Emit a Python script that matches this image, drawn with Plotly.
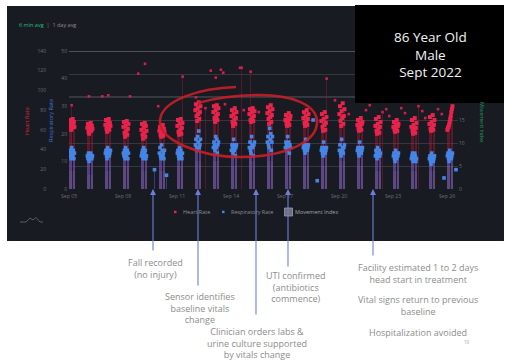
import plotly.graph_objects as go
from datetime import datetime, timedelta

W, H = 512, 363

# ---------------- data ----------------
night_dates = ["2022-09-05", "2022-09-06", "2022-09-07", "2022-09-08", "2022-09-09",
               "2022-09-10", "2022-09-11", "2022-09-12", "2022-09-13", "2022-09-14",
               "2022-09-15", "2022-09-16", "2022-09-17", "2022-09-18", "2022-09-19",
               "2022-09-20", "2022-09-21", "2022-09-22", "2022-09-23", "2022-09-24",
               "2022-09-25", "2022-09-26"]
reading_hours = [0.5, 1.25, 2, 2.75, 3.5, 4.25, 5, 5.75, 6.5, 7.25]

hr_readings = [
    [66, 70, 64, 60, 67, 62, 71, 65, 68, 63],
    [62, 66, 58, 56, 63, 60, 67, 59, 64, 61],
    [65, 70, 61, 58, 66, 63, 71, 60, 67, 64],
    [63, 68, 57, 53, 64, 59, 69, 55, 61, 66],
    [60, 66, 55, 51, 62, 57, 67, 53, 64, 59],
    [59, 63, 55, 53, 60, 57, 65, 54, 61, 58],
    [64, 70, 58, 55, 66, 60, 71, 56, 62, 67],
    [80, 86, 74, 69, 82, 76, 88, 71, 78, 84],
    [78, 84, 72, 68, 80, 74, 85, 70, 76, 82],
    [74, 80, 68, 64, 76, 70, 82, 66, 72, 78],
    [76, 81, 70, 68, 78, 72, 82, 69, 74, 79],
    [77, 83, 71, 66, 79, 73, 85, 68, 75, 81],
    [70, 75, 66, 64, 72, 68, 77, 65, 71, 74],
    [72, 78, 67, 64, 74, 69, 80, 65, 71, 76],
    [69, 76, 63, 59, 71, 65, 78, 60, 67, 73],
    [76, 84, 69, 64, 79, 72, 87, 66, 74, 81],
    [65, 70, 61, 59, 67, 63, 72, 60, 66, 68],
    [64, 71, 59, 56, 66, 61, 73, 57, 63, 68],
    [63, 68, 60, 58, 65, 61, 70, 59, 64, 66],
    [63, 70, 59, 56, 65, 61, 72, 57, 62, 67],
    [66, 73, 61, 59, 68, 63, 75, 60, 65, 70],
    [60, 62, 63, 65, 68, 71, 74, 78, 81, 84],
]
rr_readings = [
    [13, 14, 12, 11, 15, 13, 12, 14, 11, 13],
    [12, 11, 13, 10, 12, 11, 13, 12, 11, 12],
    [13, 14, 12, 11, 15, 13, 14, 12, 13, 14],
    [13, 12, 14, 11, 15, 12, 13, 14, 11, 13],
    [12, 13, 14, 11, 15, 12, 13, 14, 11, 12],
    [13, 15, 12, 11, 16, 14, 12, 13, 11, 14],
    [13, 14, 12, 11, 15, 13, 14, 12, 11, 13],
    [16, 18, 15, 14, 19, 17, 21, 15, 16, 18],
    [15, 17, 16, 14, 19, 15, 18, 13, 16, 17],
    [14, 16, 15, 13, 18, 14, 16, 12, 15, 16],
    [15, 17, 14, 13, 19, 16, 15, 12, 16, 17],
    [17, 19, 16, 15, 22, 18, 20, 14, 17, 19],
    [15, 17, 16, 14, 19, 15, 17, 13, 16, 15],
    [15, 16, 14, 13, 18, 15, 16, 14, 15, 16],
    [14, 15, 13, 12, 17, 14, 15, 13, 14, 15],
    [14, 16, 13, 12, 18, 14, 15, 13, 15, 16],
    [14, 15, 13, 12, 17, 14, 15, 13, 14, 15],
    [12, 14, 13, 11, 15, 12, 13, 14, 12, 13],
    [12, 13, 11, 10, 14, 12, 11, 13, 12, 13],
    [11, 12, 13, 10, 12, 11, 13, 12, 10, 11],
    [11, 12, 10, 9, 13, 11, 12, 10, 11, 12],
    [12, 13, 11, 10, 14, 12, 13, 11, 12, 13],
]
mi_nightly = [4, 3, 4, 5, 4, 4, 5, 6, 6, 5, 6, 6, 5, 5, 5, 6, 5, 4, 4, 4, 4, 5]

spike_times = ["2022-09-05 03:30", "2022-09-06 02:40", "2022-09-06 20:20", "2022-09-07 04:20",
               "2022-09-08 09:20", "2022-09-08 20:20", "2022-09-09 05:20", "2022-09-09 23:00",
               "2022-09-11 07:30", "2022-09-12 01:20", "2022-09-12 21:00", "2022-09-13 03:40",
               "2022-09-13 10:30", "2022-09-13 13:40", "2022-09-14 12:00", "2022-09-14 14:10",
               "2022-09-15 02:10", "2022-09-19 07:30", "2022-09-19 18:40"]
spike_hr = [85, 94, 94, 95, 94, 117, 127, 84, 114, 93, 120, 113, 121, 118, 123, 123, 119, 112, 90]

day_times = ["2022-09-12 14:00", "2022-09-13 16:00", "2022-09-14 17:00", "2022-09-15 13:00",
             "2022-09-20 13:00", "2022-09-21 12:00", "2022-09-21 17:00", "2022-09-22 10:00",
             "2022-09-22 15:00", "2022-09-22 19:00", "2022-09-23 11:00", "2022-09-23 16:00",
             "2022-09-24 10:00", "2022-09-24 15:00", "2022-09-24 19:00", "2022-09-25 12:00",
             "2022-09-25 17:00"]
day_hr = [82, 86, 80, 78, 76, 80, 85, 78, 81, 74, 82, 77, 84, 79, 72, 81, 76]

rr_out_times = ["2022-09-09 18:00", "2022-09-10 10:00", "2022-09-18 13:30",
                "2022-09-18 19:00", "2022-09-25 20:00", "2022-09-26 12:00"]
rr_out = [7, 5, 25, 3, 4, 7]

tick_dates = ["2022-09-05", "2022-09-08", "2022-09-11", "2022-09-14",
              "2022-09-17", "2022-09-20", "2022-09-23", "2022-09-26"]
mi_ticks = [0, 5, 10, 15, 20, 25, 30]
mi_tick_text = ["0", "5", "10", "15", "", "", ""]

event_times = ["2022-09-09 16:00", "2022-09-12 04:00", "2022-09-15 09:20",
               "2022-09-17 04:00", "2022-09-21 21:20"]
event_drop_px = [63, 98, 127, 79, 68]

# ---------------- helpers ----------------
def px(x):
    return x / W

def py(y):
    return 1 - y / H

def ts(s):
    return datetime.fromisoformat(s)

hr_x, hr_y, rr_x, rr_y = [], [], [], []
for d, hrs, rrs in zip(night_dates, hr_readings, rr_readings):
    base = ts(d)
    for h, hv, rv in zip(reading_hours, hrs, rrs):
        t = base + timedelta(hours=h)
        hr_x.append(t); hr_y.append(hv)
        rr_x.append(t); rr_y.append(rv)

mi_x = [ts(d) + timedelta(hours=4) for d in night_dates]
sp_x = [ts(s) for s in spike_times]
dy_x = [ts(s) for s in day_times]
ro_x = [ts(s) for s in rr_out_times]

HOUR_MS = 3600 * 1000
RED = "#e8234c"
BLUE = "#4585e6"
FONT = "Open Sans"

fig = go.Figure()

# stems (bars from zero)
fig.add_trace(go.Bar(x=hr_x, y=hr_y, width=0.6 * HOUR_MS, yaxis="y",
                     marker=dict(color="rgba(185,25,60,0.42)", line=dict(width=0)),
                     showlegend=False, hoverinfo="skip"))
fig.add_trace(go.Bar(x=sp_x + dy_x, y=spike_hr + day_hr, width=0.6 * HOUR_MS, yaxis="y",
                     marker=dict(color="rgba(150,25,55,0.45)", line=dict(width=0)),
                     showlegend=False, hoverinfo="skip"))
fig.add_trace(go.Scatter(x=sp_x + dy_x, y=spike_hr + day_hr, yaxis="y",
                         mode="markers", showlegend=False,
                         marker=dict(symbol="square", size=2.6, color="#d22048",
                                     line=dict(width=0))))
fig.add_trace(go.Scatter(x=hr_x, y=hr_y, yaxis="y",
                         mode="markers", name="Heart Rate",
                         marker=dict(symbol="square", size=4, color=RED, line=dict(width=0)),
                         showlegend=False))
fig.add_trace(go.Bar(x=rr_x + ro_x, y=rr_y + rr_out, width=0.6 * HOUR_MS, yaxis="y2",
                     marker=dict(color="rgba(80,110,230,0.45)", line=dict(width=0)),
                     showlegend=False, hoverinfo="skip"))
fig.add_trace(go.Scatter(x=rr_x + ro_x, y=rr_y + rr_out, yaxis="y2",
                         mode="markers", name="Respiratory Rate",
                         marker=dict(symbol="square", size=3.6, color=BLUE, line=dict(width=0)),
                         showlegend=False))
fig.add_trace(go.Bar(x=mi_x, y=mi_nightly, width=8 * HOUR_MS, yaxis="y3",
                     name="Movement Index",
                     marker=dict(color="rgba(160,160,175,0.10)", line=dict(width=0)),
                     showlegend=False, hoverinfo="skip"))

tick_col = "#6b6f76"
fig.update_layout(
    width=W, height=H, autosize=False,
    margin=dict(l=0, r=0, t=0, b=0, pad=0),
    paper_bgcolor="white", plot_bgcolor="rgba(0,0,0,0)",
    barmode="overlay", bargap=0,
    font=dict(family=FONT),
    xaxis=dict(domain=[px(69), px(458)], automargin=False,
               range=[ts("2022-09-05 00:00"), ts("2022-09-26 14:40")],
               tickvals=[ts(d) for d in tick_dates], tickformat="%b %d",
               tickfont=dict(size=5.2, color=tick_col), showgrid=False,
               zeroline=False, showline=False, ticks="", ticklabelstandoff=3),
    yaxis=dict(domain=[py(189), py(51)], range=[0, 140], dtick=20, automargin=False,
               anchor="free", position=px(46), side="left",
               tickfont=dict(size=5, color=tick_col), showgrid=False,
               zeroline=False, showline=False, ticks=""),
    yaxis2=dict(overlaying="y", anchor="x", side="left", range=[0, 50], dtick=10,
                automargin=False,
                tickfont=dict(size=5, color=tick_col), showgrid=False,
                zeroline=False, showline=False, ticks="", ticklabelstandoff=1),
    yaxis3=dict(overlaying="y", anchor="x", side="right", range=[0, 30],
                automargin=False,
                tickmode="array", tickvals=mi_ticks, ticktext=mi_tick_text,
                tickfont=dict(size=5, color=tick_col), showgrid=True,
                gridcolor="#33373e", gridwidth=1,
                zeroline=False, showline=False, ticks="", ticklabelstandoff=0),
)

shapes = []
# dark dashboard panel
shapes.append(dict(type="rect", xref="paper", yref="paper", layer="below",
                   x0=px(7), x1=px(504), y0=py(241), y1=py(6),
                   fillcolor="#181b21", line=dict(width=0)))
# emphasised grid lines
for v, c, w in [(30, "#4d525a", 2), (20, "#42464e", 1.5)]:
    shapes.append(dict(type="line", xref="paper", yref="y3", layer="below",
                       x0=px(69), x1=px(458), y0=v, y1=v, line=dict(color=c, width=w)))
# black title box
shapes.append(dict(type="rect", xref="paper", yref="paper", layer="above",
                   x0=px(355), x1=px(504), y0=py(103), y1=py(5),
                   fillcolor="#000000", line=dict(width=0)))

# hand-drawn red ellipse
def P(x, y):
    return f"{px(x):.5f},{py(y):.5f}"

ell = ("M " + P(236, 87) +
       " C " + P(200, 88) + " " + P(162, 100) + " " + P(160, 120) +
       " C " + P(158, 140) + " " + P(200, 157) + " " + P(240, 157) +
       " C " + P(285, 157) + " " + P(318, 142) + " " + P(317, 121) +
       " C " + P(316, 104) + " " + P(290, 95) + " " + P(260, 95) +
       " C " + P(235, 95) + " " + P(212, 99) + " " + P(198, 103))
shapes.append(dict(type="path", xref="paper", yref="paper", layer="above", path=ell,
                   line=dict(color="rgba(200,30,40,0.9)", width=2.6)))

# logo
logo = ("M " + P(20, 222) + " L " + P(26, 222) + " L " + P(30, 218) + " L " + P(33, 220) +
        " L " + P(36, 217.5) + " L " + P(40, 222) + " L " + P(43, 222))
shapes.append(dict(type="path", xref="paper", yref="paper", path=logo,
                   line=dict(color="#6a6e75", width=0.8)))

# legend swatches
shapes.append(dict(type="rect", xref="paper", yref="paper",
                   x0=px(174), x1=px(176.5), y0=py(213.2), y1=py(210.7),
                   fillcolor=RED, line=dict(width=0)))
shapes.append(dict(type="rect", xref="paper", yref="paper",
                   x0=px(222), x1=px(224.5), y0=py(213.2), y1=py(210.7),
                   fillcolor=BLUE, line=dict(width=0)))
shapes.append(dict(type="rect", xref="paper", yref="paper",
                   x0=px(284.5), x1=px(292.5), y0=py(216), y1=py(208),
                   fillcolor="#6e7178", line=dict(color="#9a9da3", width=0.8)))

fig.update_layout(shapes=shapes)

ann = []

def text(x, y, s, size, color, xanchor="center", angle=0):
    ann.append(dict(xref="paper", yref="paper", x=px(x), y=py(y), text=s,
                    showarrow=False, xanchor=xanchor, yanchor="middle",
                    textangle=angle, borderpad=0,
                    font=dict(family=FONT, size=size, color=color)))

text(18, 25, "<span style='color:#22c07e'>6 min avg</span>  |  1 day avg", 5.5,
     "#8a8d93", xanchor="left")
text(27, 121, "Heart Rate", 5.6, "#d4263f", angle=-90)
text(51, 121, "Respiratory Rate", 5.6, "#3f72dc", angle=-90)
text(482, 122, "Movement Index", 5.2, "#1f9e6a", angle=90)

text(430, 54.5, "86 Year Old<br>Male<br>Sept 2022", 13.5, "#f2f2f2")

text(182, 212, "Heart Rate", 5.5, "#8a8d93", xanchor="left")
text(230, 212, "Respiratory Rate", 5.5, "#8a8d93", xanchor="left")
text(294, 212, "Movement Index", 5.5, "#a0a3a8", xanchor="left")

note_col = "#8c8c8c"
NS = 9
for x, yc, lines in [
    (155, 268.5, ["Fall recorded", "(no injury)"]),
    (200, 307.5, ["Sensor identifies", "baseline vitals", "change"]),
    (257, 342.5, ["Clinician orders labs &", "urine culture supported", "by vitals change"]),
    (295, 286.5, ["UTI confirmed", "(antibiotics", "commence)"]),
    (418, 273.5, ["Facility estimated 1 to 2 days", "head start in treatment"]),
    (418, 305.5, ["Vital signs return to previous", "baseline"]),
    (418, 332, ["Hospitalization avoided"]),
]:
    text(x, yc, "<br>".join(lines), NS, note_col)

text(467, 342, "10", 4.5, "#9a9a9a")

# event arrows
for t, drop in zip(event_times, event_drop_px):
    ann.append(dict(xref="x", yref="paper", x=ts(t), y=py(189), text="",
                    showarrow=True, ax=0, ay=drop, arrowhead=2, arrowsize=1.1,
                    arrowwidth=1.1, arrowcolor="#6e7ed8"))

fig.update_layout(annotations=ann)
fig.write_html("out.html",
               config={"displayModeBar": False},
               post_script="document.body.style.margin='0px';"
                           "document.body.style.overflow='hidden';")
